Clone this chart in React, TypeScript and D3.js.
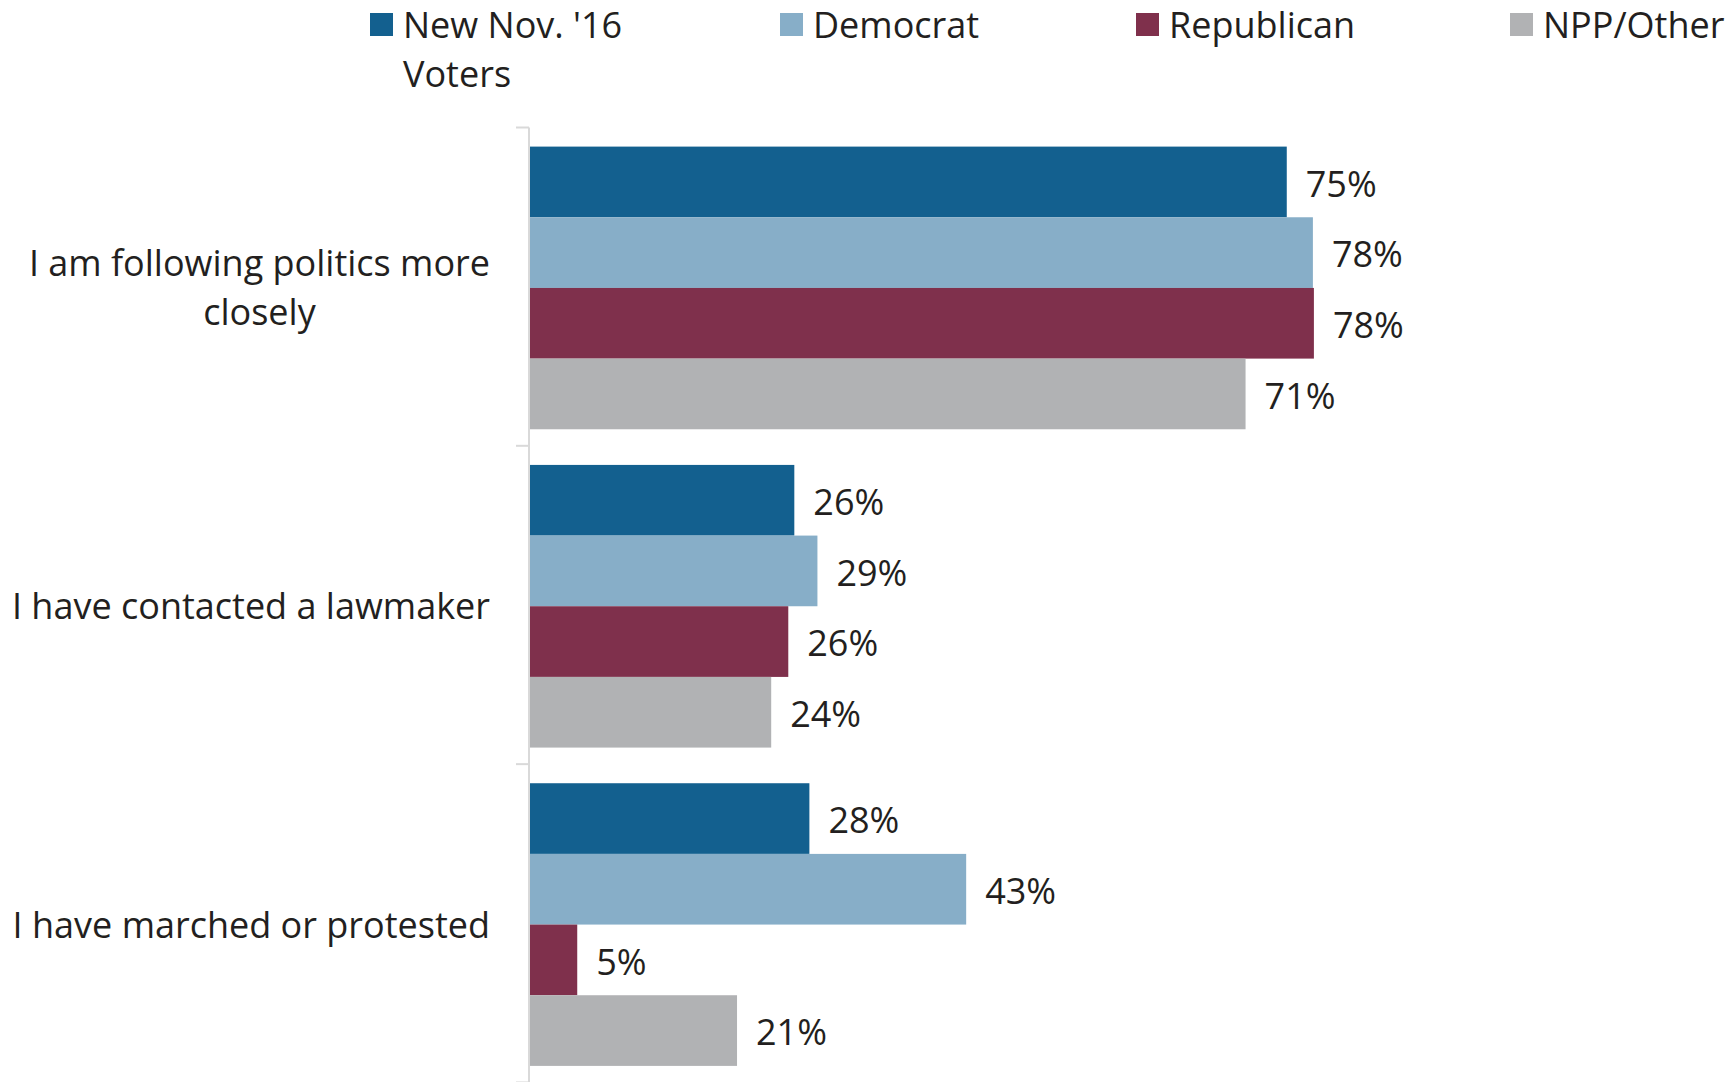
import React from "react";
import * as d3 from "d3";

const categories = [
  "I am following politics more closely",
  "I have contacted a lawmaker",
  "I have marched or protested",
];
const categoryLines = [
  ["I am following politics more", "closely"],
  ["I have contacted a lawmaker"],
  ["I have marched or protested"],
];
const seriesNames = ["New Nov. '16 Voters", "Democrat", "Republican", "NPP/Other"];
const seriesLegendLines = [["New Nov. '16", "Voters"], ["Democrat"], ["Republican"], ["NPP/Other"]];
const newVoters = [75.3, 26.3, 27.8];
const democrat = [77.9, 28.6, 43.4];
const republican = [78.0, 25.7, 4.7];
const nppOther = [71.2, 24.0, 20.6];
const seriesValues = [newVoters, democrat, republican, nppOther];
const colors = ["#13608F", "#87AEC8", "#7F304C", "#B1B2B4"];

const W = 1733;
const H = 1082;
const FONT = "'Open Sans', sans-serif";
const FS = 36;
const TEXT = "#231F20";
const legendX = [370, 780, 1136, 1510];

function measure(text: string, size: number) {
  if (typeof document === "undefined") return text.length * size * 0.5;
  const c = document.createElement("canvas");
  const ctx = c.getContext("2d")!;
  ctx.font = `${size}px 'Open Sans', sans-serif`;
  return ctx.measureText(text).width;
}

export default function App() {
  const x = d3.scaleLinear().domain([0, 100]).range([530, 1535]);
  const axisTop = 127.5;
  const y = d3
    .scaleBand<string>()
    .domain(categories)
    .range([axisTop, 1085])
    .paddingInner(0.112)
    .paddingOuter(0.06);
  const yi = d3
    .scaleBand<string>()
    .domain(seriesNames)
    .range([0, y.bandwidth()]);
  const step = y.step();
  const lineH = 49;
  const labelRight = 490;

  return (
    <svg
      width={W}
      height={H}
      style={{ position: "absolute", left: 0, top: 0, display: "block", background: "#fff" }}
      fontFamily={FONT}
    >
      {/* legend */}
      {seriesNames.map((s, i) => (
        <g key={s}>
          <rect x={legendX[i]} y={13} width={23} height={23} fill={colors[i]} />
          {seriesLegendLines[i].map((ln, j) => (
            <text key={j} x={legendX[i] + 33} y={38 + j * lineH} fontSize={FS} fill={TEXT}>
              {ln}
            </text>
          ))}
        </g>
      ))}

      {/* axis */}
      <line x1={529} x2={529} y1={axisTop} y2={H} stroke="#D9D9D9" strokeWidth={2} />
      {d3.range(categories.length + 1).map((k) => (
        <line
          key={k}
          x1={516}
          x2={529}
          y1={axisTop + k * step}
          y2={axisTop + k * step}
          stroke="#D9D9D9"
          strokeWidth={2}
        />
      ))}

      {/* bars */}
      {categories.map((c, ci) => (
        <g key={c}>
          {seriesNames.map((s, si) => {
            const v = seriesValues[si][ci];
            const yy = (y(c) as number) + (yi(s) as number);
            const h = yi.bandwidth();
            return (
              <g key={s}>
                <rect x={x(0)} y={yy} width={x(v) - x(0)} height={h} fill={colors[si]} />
                <text x={x(v) + 19} y={yy + h / 2 + FS * 0.41} fontSize={FS} fill={TEXT}>
                  {Math.round(v)}%
                </text>
              </g>
            );
          })}
        </g>
      ))}

      {/* category labels */}
      {categories.map((c, ci) => {
        const lines = categoryLines[ci];
        const bw = Math.max(...lines.map((l) => measure(l, FS)));
        const cx = labelRight - bw / 2;
        const center = (y(c) as number) + y.bandwidth() / 2;
        const first = center - ((lines.length - 1) * lineH) / 2 + FS * 0.36;
        return (
          <g key={c}>
            {lines.map((ln, j) => (
              <text key={j} x={cx} y={first + j * lineH} fontSize={FS} fill={TEXT} textAnchor="middle">
                {ln}
              </text>
            ))}
          </g>
        );
      })}
    </svg>
  );
}
